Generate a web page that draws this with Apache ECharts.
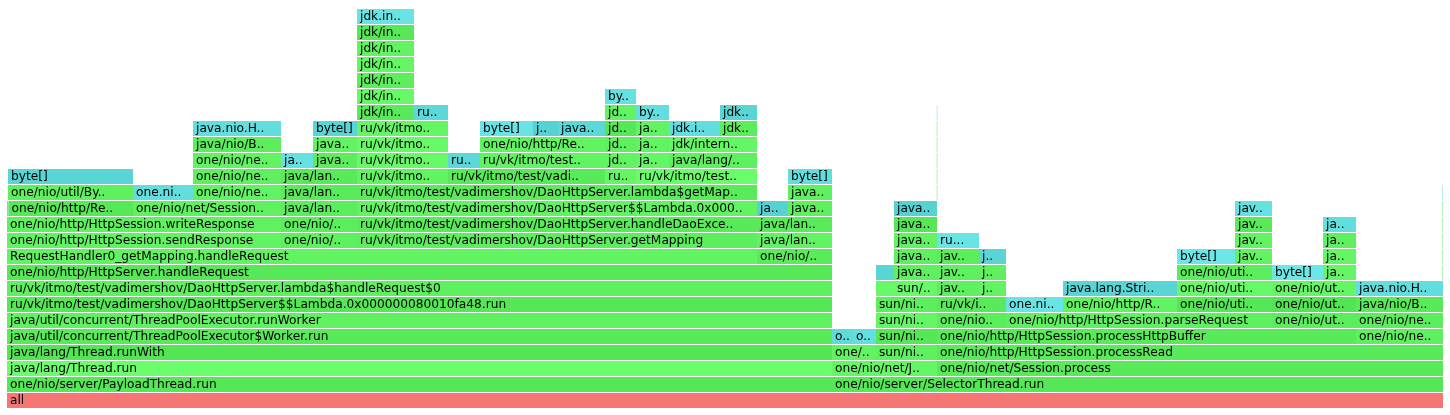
<!DOCTYPE html>
<html>
<head>
<meta charset="utf-8">
<script src="https://cdn.jsdelivr.net/npm/echarts@6/dist/echarts.min.js"></script>
<style>html,body{margin:0;padding:0;background:#fff;}#c{width:1450px;height:415px;}</style>
</head>
<body>
<div id="c"></div>
<script>
// ---- DATA: flame graph frames (sample units) ----
const TOTAL_SAMPLES = 1436;
const MAX_DEPTH = 25;
const frameLabels = [
  // depth 0
  'all',
  // depth 1
  'one/nio/server/PayloadThread.run', 'one/nio/server/SelectorThread.run',
  // depth 2
  'java/lang/Thread.run', 'one/nio/net/J..', 'one/nio/net/Session.process',
  // depth 3
  'java/lang/Thread.runWith', 'one/..', 'sun/ni..', 'one/nio/http/HttpSession.processRead',
  // depth 4
  'java/util/concurrent/ThreadPoolExecutor$Worker.run', 'o..', 'o..', 'sun/ni..', 'one/nio/http/HttpSession.processHttpBuffer', 'one/nio/ne..',
  // depth 5
  'java/util/concurrent/ThreadPoolExecutor.runWorker', 'sun/ni..', 'one/nio..', 'one/nio/http/HttpSession.parseRequest', 'one/nio/ut..', 'one/nio/ne..',
  // depth 6
  'ru/vk/itmo/test/vadimershov/DaoHttpServer$$Lambda.0x000000080010fa48.run', 'sun/ni..', 'ru/vk/i..', 'one.ni..', 'one/nio/http/R..', 'one/nio/uti..', 'one/nio/ut..', 'java/nio/B..',
  // depth 7
  'ru/vk/itmo/test/vadimershov/DaoHttpServer.lambda$handleRequest$0', '', 'sun/..', 'jav..', 'j..', 'java.lang.Stri..', 'one/nio/uti..', 'one/nio/ut..', 'java.nio.H..',
  // depth 8
  'one/nio/http/HttpServer.handleRequest', '', 'java..', 'jav..', 'j..', 'one/nio/uti..', 'byte[]', 'ja..', '',
  // depth 9
  'RequestHandler0_getMapping.handleRequest', 'one/nio/..', 'java..', 'jav..', 'j..', 'byte[]', 'jav..', 'ja..', '',
  // depth 10
  'one/nio/http/HttpSession.sendResponse', 'one/nio/..', 'ru/vk/itmo/test/vadimershov/DaoHttpServer.getMapping', 'java/lan..', 'java..', 'ru...', 'jav..', 'ja..', '',
  // depth 11
  'one/nio/http/HttpSession.writeResponse', 'one/nio/..', 'ru/vk/itmo/test/vadimershov/DaoHttpServer.handleDaoExce..', 'java/lan..', 'java..', 'jav..', 'ja..', '',
  // depth 12
  '', 'one/nio/http/Re..', 'one/nio/net/Session..', 'java/lan..', 'ru/vk/itmo/test/vadimershov/DaoHttpServer$$Lambda.0x000..', 'ja..', 'java..', 'java..', 'jav..', '',
  // depth 13
  'one/nio/util/By..', 'one.ni..', 'one/nio/ne..', 'java/lan..', 'ru/vk/itmo/test/vadimershov/DaoHttpServer.lambda$getMap..', 'java..', '', '',
  // depth 14
  'byte[]', 'one/nio/ne..', 'java/lan..', 'ru/vk/itmo..', 'ru/vk/itmo/test/vadi..', 'ru..', 'ru/vk/itmo/test..', 'byte[]', '',
  // depth 15
  'one/nio/ne..', 'ja..', 'java..', 'ru/vk/itmo..', 'ru..', 'ru/vk/itmo/test..', 'jd..', 'ja..', 'java/lang/..', '',
  // depth 16
  'java/nio/B..', 'java..', 'ru/vk/itmo..', 'one/nio/http/Re..', 'jd..', 'ja..', 'jdk/intern..', '',
  // depth 17
  'java.nio.H..', 'byte[]', 'ru/vk/itmo..', 'byte[]', 'j..', 'java..', 'jd..', 'ja..', 'jdk.i..', 'jdk..', '',
  // depth 18
  'jdk/in..', 'ru..', 'jd..', 'by..', 'jdk..', '',
  // depth 19
  'jdk/in..', 'by..',
  // depth 20-24
  'jdk/in..', 'jdk/in..', 'jdk/in..', 'jdk/in..', 'jdk.in..'
];
const frameDepth = [
  0,
  1, 1,
  2, 2, 2,
  3, 3, 3, 3,
  4, 4, 4, 4, 4, 4,
  5, 5, 5, 5, 5, 5,
  6, 6, 6, 6, 6, 6, 6, 6,
  7, 7, 7, 7, 7, 7, 7, 7, 7,
  8, 8, 8, 8, 8, 8, 8, 8, 8,
  9, 9, 9, 9, 9, 9, 9, 9, 9,
  10, 10, 10, 10, 10, 10, 10, 10, 10,
  11, 11, 11, 11, 11, 11, 11, 11,
  12, 12, 12, 12, 12, 12, 12, 12, 12, 12,
  13, 13, 13, 13, 13, 13, 13, 13,
  14, 14, 14, 14, 14, 14, 14, 14, 14,
  15, 15, 15, 15, 15, 15, 15, 15, 15, 15,
  16, 16, 16, 16, 16, 16, 16, 16,
  17, 17, 17, 17, 17, 17, 17, 17, 17, 17, 17,
  18, 18, 18, 18, 18, 18,
  19, 19,
  20, 21, 22, 23, 24
];
const frameStart = [
  0,
  0, 825,
  0, 825, 930,
  0, 825, 869, 930,
  0, 825, 846, 869, 930, 1349,
  0, 869, 930, 999, 1265, 1349,
  0, 869, 930, 999, 1056, 1170, 1265, 1349,
  0, 869, 887, 930, 972, 1056, 1170, 1265, 1349,
  0, 869, 887, 930, 972, 1170, 1265, 1316, 1435.2,
  0, 750, 887, 930, 972, 1170, 1228, 1316, 1435.2,
  0, 274, 350, 750, 887, 930, 1228, 1316, 1435.2,
  0, 274, 350, 750, 887, 1228, 1316, 1435.2,
  0, 1.5, 126, 274, 350, 750, 781, 887, 1228, 1435.2,
  1, 126, 186, 274, 350, 781, 929.8, 1435.2,
  1, 186, 274, 350, 441, 598, 629, 781, 929.8,
  186, 274, 306, 350, 441, 473, 598, 629, 662, 929.8,
  186, 306, 350, 473, 598, 629, 662, 929.8,
  186, 306, 350, 473, 526, 551, 598, 629, 662, 713, 929.8,
  350, 407, 598, 629, 713, 929.8,
  350, 598,
  350, 350, 350, 350, 350
];
const frameWidth = [
  1436,
  825, 611,
  825, 105, 506,
  825, 44, 61, 506,
  825, 21, 23, 61, 419, 87,
  825, 61, 69, 266, 84, 87,
  825, 61, 69, 57, 114, 95, 84, 87,
  825, 18, 43, 42, 27, 114, 95, 84, 87,
  825, 18, 43, 42, 27, 95, 51, 33, 0.5,
  750, 75, 43, 42, 27, 58, 37, 33, 0.5,
  274, 76, 400, 75, 43, 42, 37, 33, 0.5,
  274, 76, 400, 75, 43, 37, 33, 0.5,
  1.5, 124.5, 148, 76, 400, 31, 44, 43, 37, 0.5,
  125, 60, 88, 76, 400, 44, 0.5, 0.5,
  125, 88, 76, 91, 157, 31, 121, 44, 0.5,
  88, 32, 44, 91, 32, 125, 31, 33, 88, 0.5,
  88, 44, 91, 125, 31, 33, 88, 0.5,
  88, 44, 91, 53, 25, 47, 31, 33, 51, 37, 0.5,
  57, 34, 31, 33, 37, 0.5,
  57, 31,
  57, 57, 57, 57, 57
];
// frame kind: r = root, j = java method, a = allocation
const frameKind = [
  'r',
  'j', 'j',
  'j', 'j', 'j',
  'j', 'j', 'j', 'j',
  'j', 'a', 'a', 'j', 'j', 'j',
  'j', 'j', 'j', 'j', 'j', 'j',
  'j', 'j', 'j', 'a', 'j', 'j', 'j', 'j',
  'j', 'j', 'j', 'j', 'j', 'a', 'j', 'j', 'a',
  'j', 'a', 'j', 'j', 'j', 'j', 'a', 'j', 'j',
  'j', 'j', 'j', 'j', 'a', 'a', 'j', 'j', 'j',
  'j', 'j', 'j', 'j', 'j', 'a', 'j', 'j', 'j',
  'j', 'j', 'j', 'j', 'j', 'j', 'a', 'j',
  'a', 'j', 'j', 'j', 'j', 'a', 'j', 'a', 'a', 'j',
  'j', 'a', 'j', 'j', 'j', 'j', 'j', 'a',
  'a', 'j', 'j', 'j', 'j', 'j', 'j', 'a', 'j',
  'j', 'a', 'j', 'j', 'a', 'j', 'j', 'j', 'j', 'j',
  'j', 'j', 'j', 'j', 'j', 'j', 'j', 'j',
  'a', 'a', 'j', 'a', 'a', 'a', 'j', 'j', 'a', 'j', 'j',
  'j', 'a', 'j', 'a', 'a', 'a',
  'j', 'a',
  'j', 'j', 'j', 'j', 'a'
];

// ---- STYLE: per-frame colour shade (0..1), like the random shade of a flame graph ----
const frameShade = [
  0.72,
  0.2, 0.2,
  0.95, 0.7, 0.3,
  0.15, 0.6, 0.5, 0.3,
  0.3, 0.5, 0.6, 0.2, 0.3, 0.5,
  0.55, 0.7, 0.4, 0.5, 0.4, 0.4,
  0.2, 0.45, 0.3, 0.8, 0.6, 0.2, 0.1, 0.3,
  0.5, 0.8, 0.8, 0.5, 0.6, 0.3, 0.8, 0.7, 0.6,
  0.25, 0.3, 0.5, 0.5, 0.5, 0.4, 0.9, 0.7, 0.5,
  0.6, 0.35, 0.5, 0.4, 0.3, 0.9, 0.6, 0.7, 0.5,
  0.6, 0.5, 0.45, 0.6, 0.6, 0.8, 0.6, 0.5, 0.5,
  0.55, 0.4, 0.3, 0.35, 0.2, 0.3, 0.6, 0.5,
  0.6, 0.25, 0.55, 0.4, 0.6, 0.2, 0.5, 0.2, 0.7, 0.5,
  0.5, 0.6, 0.6, 0.35, 0.35, 0.5, 0.5, 0.8,
  0.3, 0.5, 0.3, 0.6, 0.3, 0.7, 0.9, 0.6, 0.5,
  0.6, 0.7, 0.4, 0.8, 0.4, 0.6, 0.6, 0.7, 0.5, 0.5,
  0.4, 0.6, 0.8, 0.6, 0.5, 0.6, 0.7, 0.5,
  0.6, 0.3, 0.7, 0.8, 0.2, 0.4, 0.2, 0.6, 0.6, 0.4, 0.5,
  0.3, 0.4, 0.6, 0.6, 0.3, 0.8,
  0.8, 0.7,
  0.45, 0.7, 0.6, 0.25, 0.8
];
const PALETTE = {
  r: [0xe1, 0x5a, 0x5a, 30, 40, 40],
  j: [0x50, 0xe1, 0x50, 30, 30, 30],
  a: [0x50, 0xcc, 0xcc, 30, 30, 30]
};
function frameColor(kind, v) {
  const p = PALETTE[kind];
  const c = [p[0] + Math.floor(p[3] * v), p[1] + Math.floor(p[4] * v), p[2] + Math.floor(p[5] * v)];
  return 'rgb(' + c.join(',') + ')';
}

const seriesData = frameLabels.map((name, i) => [frameStart[i], frameWidth[i], frameDepth[i], i]);

const chart = echarts.init(document.getElementById('c'), null, { renderer: 'canvas' });
chart.setOption({
  animation: false,
  backgroundColor: '#ffffff',
  grid: { left: 7, right: 7, top: 8, bottom: 7, containLabel: false },
  xAxis: { type: 'value', min: 0, max: TOTAL_SAMPLES, show: false },
  yAxis: { type: 'value', min: 0, max: MAX_DEPTH, show: false },
  series: [{
    type: 'custom',
    silent: true,
    clip: false,
    data: seriesData,
    renderItem: function (params, api) {
      const i = api.value(3);
      const s = api.value(0), w = api.value(1), d = api.value(2);
      const p0 = api.coord([s, d + 1]);
      const p1 = api.coord([s + w, d]);
      const left = p0[0];
      const top = p0[1] + 1;
      const width = p1[0] - p0[0];
      const height = p1[1] - p0[1] - 1;
      const children = [{
        type: 'rect',
        shape: { x: left, y: top, width: width, height: height },
        style: { fill: frameColor(frameKind[i], frameShade[i]) }
      }];
      if (frameLabels[i]) {
        children.push({
          type: 'text',
          style: {
            x: left + 3, y: top + height / 2 + 0.5,
            text: frameLabels[i],
            fill: '#000000',
            font: '12.2px "DejaVu Sans", Verdana, sans-serif',
            align: 'left', verticalAlign: 'middle'
          }
        });
      }
      return { type: 'group', children: children };
    }
  }]
});
</script>
</body>
</html>
